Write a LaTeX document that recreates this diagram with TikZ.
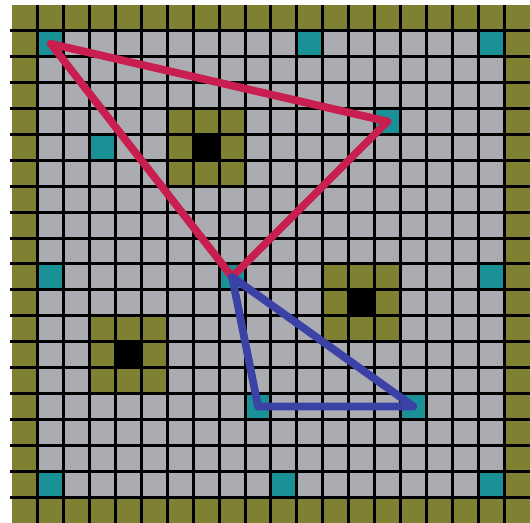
\documentclass[tikz,border=0pt]{standalone}
\usepackage{tikz}
\usetikzlibrary{positioning,calc}
\definecolor{wall}{RGB}{128,128,50}
\definecolor{free}{RGB}{170,172,178}
\definecolor{target}{RGB}{25,145,150}
\definecolor{tourA}{RGB}{200,30,80}
\definecolor{tourB}{RGB}{60,65,165}

\begin{document}
\begin{tikzpicture}[y=-1cm,
  gridline/.style={black,line width=3.3pt},
  tour/.style={line width=8.5pt,line join=round}]
\useasboundingbox (-0.46,-0.19) rectangle (20,20);
% floor and outer wall
\fill[wall] (0,0) rectangle (20,20);
\fill[free] (1,1) rectangle (19,19);
% obstacles
\foreach \cx/\cy in {7/5,13/11,4/13} {
  \fill[wall] (\cx-1,\cy-1) rectangle +(3,3);
  \fill[black] (\cx,\cy) rectangle +(1,1);
}
% targets
\foreach \cx/\cy in {1/1,11/1,18/1,14/4,3/5,1/10,8/10,18/10,9/15,15/15,1/18,10/18,18/18}
  \fill[target] (\cx,\cy) rectangle +(1,1);
% grid
\foreach \k in {1,...,19} {
  \draw[gridline] (\k,0) -- (\k,20);
  \draw[gridline] (-0.08,\k) -- (20,\k);
}
% tours
\coordinate (t1) at (1.5,1.5);
\coordinate (t2) at (14.5,4.5);
\coordinate (t3) at (8.5,10.5);
\coordinate (t4) at (9.5,15.5);
\coordinate (t5) at (15.5,15.5);
\draw[tour,tourA] (t1) -- (t2) -- (t3) -- cycle;
\draw[tour,tourB] (t3) -- (t4) -- (t5) -- cycle;
\end{tikzpicture}
\end{document}
